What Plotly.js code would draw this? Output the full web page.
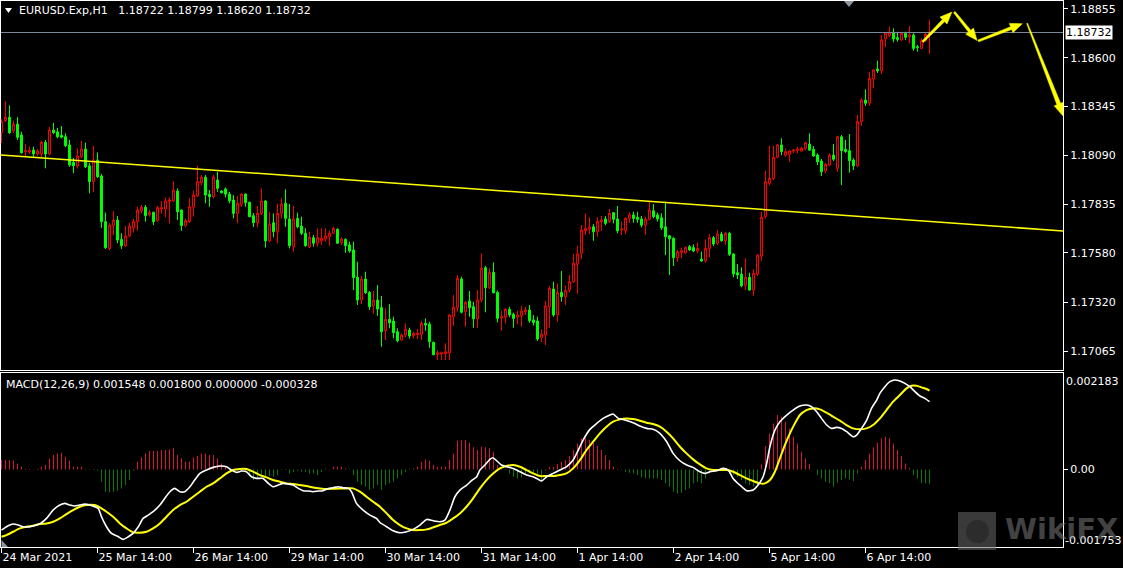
<!DOCTYPE html>
<html><head><meta charset="utf-8">
<script src="https://cdn.plot.ly/plotly-3.0.1.min.js"></script>
<style>html,body{margin:0;padding:0;background:#000;}#chart{width:1123px;height:568px;}</style>
</head><body><div id="chart"></div>
<script>
const symbolLabel = 'EURUSD.Exp,H1';
const indicatorLabel = 'MACD(12,26,9)';
const openP = [
1.18208,1.18271,1.18289,1.18218,1.18253,1.18196,1.18109,1.18107,1.18117,1.18097,
1.18097,1.18158,1.18097,1.18222,1.18212,1.18194,1.18187,1.18144,1.18053,1.18034,
1.18082,1.18123,1.18035,1.17952,1.18065,1.17982,1.17743,1.17603,1.17722,1.17751,
1.17650,1.17617,1.17669,1.17711,1.17743,1.17800,1.17818,1.17778,1.17792,1.17748,
1.17809,1.17809,1.17849,1.17852,1.17903,1.17804,1.17722,1.17743,1.17818,1.17878,
1.17946,1.17975,1.17886,1.17873,1.17961,1.17903,1.17914,1.17887,1.17856,1.17786,
1.17834,1.17887,1.17844,1.17774,1.17737,1.17786,1.17851,1.17642,1.17737,1.17690,
1.17786,1.17839,1.17757,1.17612,1.17760,1.17720,1.17682,1.17612,1.17659,1.17630,
1.17643,1.17652,1.17664,1.17682,1.17703,1.17633,1.17650,1.17621,1.17595,1.17452,
1.17333,1.17443,1.17373,1.17302,1.17333,1.17293,1.17172,1.17232,1.17223,1.17167,
1.17124,1.17150,1.17176,1.17146,1.17152,1.17154,1.17211,1.17207,1.17112,1.17049,
1.17051,1.17052,1.17057,1.17246,1.17293,1.17443,1.17272,1.17328,1.17298,1.17235,
1.17333,1.17502,1.17397,1.17478,1.17373,1.17239,1.17243,1.17284,1.17258,1.17243,
1.17251,1.17272,1.17281,1.17229,1.17223,1.17138,1.17150,1.17298,1.17391,1.17255,
1.17373,1.17350,1.17385,1.17429,1.17520,1.17577,1.17695,1.17703,1.17716,1.17690,
1.17743,1.17757,1.17743,1.17790,1.17757,1.17699,1.17695,1.17760,1.17778,1.17766,
1.17757,1.17725,1.17755,1.17800,1.17778,1.17763,1.17716,1.17669,1.17656,1.17554,
1.17583,1.17580,1.17612,1.17607,1.17589,1.17547,1.17537,1.17603,1.17659,1.17630,
1.17678,1.17642,1.17682,1.17574,1.17476,1.17468,1.17408,1.17452,1.17385,1.17469,
1.17563,1.17769,1.17943,1.17969,1.18079,1.18144,1.18091,1.18095,1.18112,1.18116,
1.18112,1.18126,1.18149,1.18121,1.18091,1.18060,1.18008,1.18039,1.18091,1.18022,
1.18187,1.18121,1.18114,1.18065,1.18035,1.18266,1.18379,1.18362,1.18489,1.18541,
1.18531,1.18698,1.18715,1.18733,1.18705,1.18693,1.18728,1.18710,1.18719,1.18658,
1.18649,1.18689,1.18722];
const highP = [
1.18280,1.18374,1.18351,1.18271,1.18290,1.18213,1.18149,1.18135,1.18135,1.18123,
1.18165,1.18170,1.18239,1.18260,1.18233,1.18243,1.18205,1.18170,1.18076,1.18126,
1.18166,1.18156,1.18050,1.18140,1.18105,1.17992,1.17790,1.17736,1.17798,1.17772,
1.17682,1.17720,1.17737,1.17757,1.17821,1.17830,1.17830,1.17804,1.17795,1.17825,
1.17851,1.17870,1.17870,1.17955,1.17917,1.17807,1.17760,1.17865,1.17905,1.18035,
1.17987,1.17987,1.17908,1.17987,1.18004,1.17908,1.17922,1.17899,1.17882,1.17877,
1.17891,1.17891,1.17847,1.17788,1.17825,1.17917,1.17856,1.17795,1.17786,1.17835,
1.17865,1.17912,1.17835,1.17825,1.17790,1.17769,1.17708,1.17690,1.17673,1.17708,
1.17708,1.17708,1.17695,1.17716,1.17708,1.17661,1.17656,1.17638,1.17638,1.17533,
1.17459,1.17481,1.17380,1.17380,1.17411,1.17354,1.17290,1.17312,1.17246,1.17185,
1.17159,1.17211,1.17188,1.17167,1.17181,1.17225,1.17237,1.17219,1.17115,1.17072,
1.17063,1.17107,1.17260,1.17359,1.17464,1.17455,1.17329,1.17380,1.17324,1.17385,
1.17577,1.17511,1.17499,1.17530,1.17382,1.17277,1.17290,1.17298,1.17267,1.17277,
1.17302,1.17298,1.17307,1.17255,1.17246,1.17180,1.17329,1.17406,1.17429,1.17420,
1.17485,1.17410,1.17464,1.17574,1.17615,1.17725,1.17786,1.17766,1.17730,1.17766,
1.17772,1.17772,1.17809,1.17793,1.17825,1.17743,1.17766,1.17792,1.17795,1.17795,
1.17772,1.17769,1.17852,1.17835,1.17790,1.17786,1.17847,1.17673,1.17661,1.17595,
1.17607,1.17612,1.17621,1.17624,1.17633,1.17586,1.17650,1.17678,1.17668,1.17699,
1.17690,1.17690,1.17690,1.17577,1.17521,1.17504,1.17551,1.17476,1.17494,1.17572,
1.17795,1.18008,1.18140,1.18138,1.18149,1.18179,1.18126,1.18117,1.18123,1.18135,
1.18135,1.18161,1.18205,1.18138,1.18100,1.18070,1.18051,1.18100,1.18149,1.18191,
1.18196,1.18170,1.18201,1.18074,1.18301,1.18388,1.18435,1.18527,1.18541,1.18585,
1.18719,1.18733,1.18762,1.18754,1.18736,1.18736,1.18736,1.18766,1.18728,1.18667,
1.18702,1.18733,1.18799];
const lowP = [
1.18154,1.18264,1.18201,1.18206,1.18170,1.18099,1.18082,1.18097,1.18076,1.18088,
1.18081,1.18022,1.18091,1.18201,1.18179,1.18178,1.18133,1.18030,1.17996,1.18022,
1.18076,1.18023,1.17891,1.17899,1.17971,1.17711,1.17600,1.17594,1.17673,1.17630,
1.17600,1.17610,1.17662,1.17687,1.17695,1.17786,1.17743,1.17769,1.17725,1.17743,
1.17786,1.17766,1.17734,1.17846,1.17751,1.17695,1.17716,1.17736,1.17769,1.17872,
1.17934,1.17839,1.17821,1.17865,1.17899,1.17891,1.17870,1.17839,1.17760,1.17734,
1.17821,1.17821,1.17766,1.17715,1.17713,1.17778,1.17607,1.17635,1.17661,1.17630,
1.17760,1.17716,1.17603,1.17586,1.17708,1.17673,1.17612,1.17605,1.17612,1.17612,
1.17621,1.17638,1.17617,1.17678,1.17626,1.17621,1.17580,1.17580,1.17385,1.17307,
1.17312,1.17365,1.17281,1.17263,1.17251,1.17089,1.17124,1.17185,1.17133,1.17112,
1.17120,1.17138,1.17131,1.17133,1.17129,1.17124,1.17172,1.17084,1.17045,1.17019,
1.17019,1.17019,1.17019,1.17199,1.17272,1.17263,1.17193,1.17246,1.17188,1.17188,
1.17323,1.17269,1.17391,1.17368,1.17216,1.17172,1.17211,1.17243,1.17188,1.17207,
1.17193,1.17255,1.17214,1.17199,1.17119,1.17112,1.17098,1.17188,1.17246,1.17219,
1.17324,1.17307,1.17373,1.17424,1.17365,1.17547,1.17673,1.17678,1.17643,1.17664,
1.17695,1.17725,1.17736,1.17734,1.17682,1.17673,1.17677,1.17737,1.17737,1.17737,
1.17713,1.17673,1.17751,1.17760,1.17743,1.17699,1.17568,1.17464,1.17511,1.17533,
1.17551,1.17574,1.17591,1.17584,1.17577,1.17533,1.17528,1.17556,1.17615,1.17621,
1.17638,1.17621,1.17563,1.17452,1.17443,1.17399,1.17385,1.17382,1.17355,1.17459,
1.17539,1.17760,1.17934,1.17961,1.18076,1.18091,1.18082,1.18056,1.18102,1.18100,
1.18107,1.18117,1.18112,1.18082,1.18039,1.17982,1.17996,1.18034,1.18060,1.18004,
1.17934,1.18103,1.17999,1.18013,1.18029,1.18243,1.18348,1.18348,1.18440,1.18520,
1.18515,1.18655,1.18707,1.18681,1.18684,1.18689,1.18693,1.18676,1.18637,1.18632,
1.18644,1.18684,1.18620];
const closeP = [
1.18266,1.18289,1.18208,1.18253,1.18184,1.18103,1.18114,1.18115,1.18097,1.18112,
1.18158,1.18097,1.18222,1.18208,1.18187,1.18184,1.18140,1.18039,1.18035,1.18086,
1.18123,1.18030,1.17952,1.18065,1.17978,1.17743,1.17607,1.17725,1.17751,1.17647,
1.17617,1.17668,1.17720,1.17743,1.17804,1.17818,1.17774,1.17792,1.17743,1.17816,
1.17816,1.17851,1.17856,1.17908,1.17795,1.17722,1.17748,1.17821,1.17882,1.17952,
1.17975,1.17882,1.17873,1.17976,1.17917,1.17894,1.17887,1.17852,1.17786,1.17839,
1.17887,1.17842,1.17769,1.17737,1.17786,1.17851,1.17642,1.17730,1.17690,1.17786,
1.17835,1.17760,1.17617,1.17757,1.17716,1.17682,1.17617,1.17661,1.17630,1.17659,
1.17656,1.17668,1.17682,1.17708,1.17630,1.17652,1.17617,1.17589,1.17450,1.17333,
1.17443,1.17371,1.17298,1.17333,1.17286,1.17167,1.17232,1.17214,1.17162,1.17120,
1.17150,1.17181,1.17145,1.17159,1.17159,1.17211,1.17202,1.17115,1.17047,1.17057,
1.17057,1.17063,1.17255,1.17295,1.17446,1.17269,1.17321,1.17293,1.17235,1.17333,
1.17499,1.17397,1.17478,1.17371,1.17237,1.17246,1.17284,1.17255,1.17237,1.17255,
1.17275,1.17281,1.17225,1.17216,1.17129,1.17155,1.17302,1.17394,1.17255,1.17373,
1.17350,1.17382,1.17429,1.17525,1.17574,1.17699,1.17708,1.17716,1.17690,1.17743,
1.17751,1.17734,1.17786,1.17755,1.17695,1.17704,1.17760,1.17778,1.17760,1.17755,
1.17725,1.17755,1.17804,1.17769,1.17757,1.17711,1.17664,1.17652,1.17554,1.17586,
1.17591,1.17609,1.17595,1.17589,1.17603,1.17537,1.17603,1.17659,1.17626,1.17678,
1.17643,1.17682,1.17572,1.17469,1.17464,1.17408,1.17452,1.17385,1.17473,1.17568,
1.17766,1.17952,1.17969,1.18079,1.18144,1.18109,1.18109,1.18112,1.18117,1.18121,
1.18126,1.18156,1.18117,1.18086,1.18056,1.18004,1.18043,1.18091,1.18069,1.18187,
1.18114,1.18109,1.18062,1.18035,1.18266,1.18379,1.18362,1.18492,1.18536,1.18531,
1.18693,1.18728,1.18733,1.18698,1.18696,1.18728,1.18707,1.18719,1.18649,1.18653,
1.18689,1.18722,1.18732];
const histVals = [
0.000214,0.000214,0.000214,0.000198,0.000137,0.000061,0.000015,0.000008,0.000004,0.000015,
0.000061,0.000099,0.000252,0.000328,0.000366,0.000382,0.000290,0.000198,0.000061,0.000061,
0.000061,0.000008,-0.000015,-0.000015,-0.000031,-0.000282,-0.000511,-0.000526,-0.000511,-0.000488,
-0.000435,-0.000359,-0.000244,-0.000031,0.000175,0.000275,0.000366,0.000420,0.000420,0.000420,
0.000443,0.000443,0.000458,0.000496,0.000328,0.000252,0.000175,0.000175,0.000275,0.000305,
0.000366,0.000366,0.000328,0.000328,0.000252,0.000137,0.000061,-0.000015,-0.000015,-0.000031,
-0.000031,-0.000053,-0.000092,-0.000244,-0.000206,-0.000168,-0.000153,-0.000153,-0.000168,-0.000130,
-0.000015,-0.000015,-0.000092,-0.000053,-0.000031,-0.000053,-0.000053,-0.000092,-0.000092,-0.000130,
-0.000053,-0.000015,-0.000015,0.000061,0.000061,0.000061,0.000023,-0.000015,-0.000130,-0.000282,
-0.000359,-0.000397,-0.000473,-0.000435,-0.000359,-0.000473,-0.000359,-0.000320,-0.000282,-0.000206,
-0.000130,-0.000053,-0.000015,0.000023,0.000061,0.000175,0.000229,0.000198,0.000099,0.000061,
0.000061,0.000061,0.000214,0.000366,0.000656,0.000671,0.000671,0.000610,0.000504,0.000443,
0.000519,0.000504,0.000481,0.000404,0.000099,0.000023,-0.000015,-0.000092,-0.000168,-0.000206,
-0.000183,-0.000130,-0.000092,-0.000107,-0.000092,-0.000244,-0.000031,0.000061,0.000061,0.000122,
0.000175,0.000214,0.000305,0.000443,0.000595,0.000710,0.000710,0.000671,0.000610,0.000534,
0.000443,0.000328,0.000214,0.000061,0.000015,-0.000015,-0.000053,-0.000076,-0.000092,-0.000130,
-0.000183,-0.000206,-0.000206,-0.000206,-0.000206,-0.000244,-0.000320,-0.000397,-0.000511,-0.000549,
-0.000534,-0.000473,-0.000435,-0.000320,-0.000282,-0.000320,-0.000206,-0.000092,-0.000015,-0.000015,
-0.000004,-0.000015,-0.000092,-0.000130,-0.000168,-0.000244,-0.000320,-0.000359,-0.000397,-0.000359,
0.000114,0.000534,0.000824,0.001053,0.001244,0.001206,0.001091,0.000938,0.000748,0.000595,
0.000404,0.000252,0.000122,0.000000,-0.000130,-0.000206,-0.000282,-0.000320,-0.000397,-0.000305,
-0.000244,-0.000206,-0.000229,-0.000267,-0.000092,0.000061,0.000214,0.000366,0.000504,0.000610,
0.000710,0.000748,0.000710,0.000595,0.000443,0.000305,0.000137,0.000038,-0.000130,-0.000206,
-0.000320,-0.000320,-0.000328];
const macdBars = [0,1.25,2.9,4.2,5.4,7.1,8.75,10,11.25,12.9,14.6,15.8,17.1,18.3,19.6,20.8,22.1,23.3,24.2,25,26.25,27.5,29.2,30.4,31.7,32.9,34.2,35.4,36.7,37.9,39.6,40.8,42.1,43.3,44.6,45.8,47.1,48.3,49.6,51.25,52.9,54.6,56.25,57.5,58.75,60,61.25,62.5,63.75,65.4,66.7,67.9,69.2,70.4,71.7,72.9,74.2,75.4,76.7,77.9,79.2,80.4,81.7,82.9,84.2,85.4,86.7,87.5,88.75,90.4,92.1,93.75,94.6,
96.3,97.9,99.6,101.3,102.9,104.6,106.3,107.9,109.6,110.85,112.1,113.35,114.6,116.3,117.5,118.8,119.6,120.85,122.1,122.9,123.8,125,126.3,127.9,129.6,131.3,132.9,134.2,135,136.3,137.9,139.6,141.3,142.9,144.2,145.4,147.1,148.8,150.4,152.1,152.9,154.2,155.85,157.9,159.6,161.3,162.9,164.6,166.3,167.9,169.6,171.3,172.9,174.6,175.85,177.1,178.8,180.4,181.7,182.9,184.6,186.3,187.9,189.6,
190.4,191.3,192.1,193.35,194.6,196.3,197.9,199.6,201.3,202.5,203.8,205,206.3,207.5,208.8,210,211.3,212.9,213.8,215,216.3,217.5,218.8,219.6,220.85,222.1,223.35,224.6,225.85,227.1,228.35,229.6,230.85,232];
const macdVals = [-0.001389,-0.001312,-0.001251,-0.001274,-0.001312,-0.001312,-0.001274,-0.001221,-0.001122,-0.000931,
-0.000816,-0.000778,-0.000816,-0.000839,-0.000816,-0.000794,-0.000816,-0.000855,-0.000893,-0.001083,
-0.001312,-0.001465,-0.001541,-0.001602,-0.001541,-0.001465,-0.001312,-0.001122,-0.001045,-0.000969,
-0.000816,-0.000664,-0.000511,-0.000435,-0.000511,-0.000511,-0.000397,-0.000244,-0.000092,-0.000015,
0.000046,0.000076,0.000061,-0.000015,-0.000069,-0.000038,-0.000053,-0.000168,-0.000206,-0.000206,
-0.000320,-0.000397,-0.000359,-0.000320,-0.000336,-0.000359,-0.000435,-0.000488,-0.000496,-0.000511,
-0.000496,-0.000488,-0.000435,-0.000420,-0.000397,-0.000420,-0.000435,-0.000511,-0.000778,-0.000931,
-0.001045,-0.001122,-0.001215,
-0.001312,-0.001404,-0.001450,-0.001427,-0.001373,-0.001274,-0.001145,-0.001175,-0.001198,-0.001160,
-0.000931,-0.000626,-0.000473,-0.000359,-0.000259,-0.000168,-0.000015,0.000099,0.000229,0.000267,
0.000198,0.000099,0.000061,0.000023,-0.000053,-0.000130,-0.000168,-0.000229,-0.000267,-0.000168,
-0.000092,-0.000015,0.000061,0.000214,0.000443,0.000671,0.000916,0.001053,0.001167,0.001244,
0.001267,0.001167,0.001129,0.001068,0.000992,0.000938,0.000916,0.000824,0.000633,0.000366,
0.000198,0.000099,0.000046,-0.000053,-0.000092,-0.000053,-0.000031,0.000023,-0.000015,-0.000206,
-0.000359,-0.000488,-0.000473,-0.000300,
-0.000168,0.000137,0.000519,0.000900,0.001091,0.001244,0.001358,0.001450,0.001473,0.001434,
0.001320,0.001167,0.001015,0.000938,0.000961,0.000938,0.000862,0.000748,0.000786,0.000938,
0.001129,0.001396,0.001587,0.001740,0.001892,0.002007,0.002045,0.002022,0.001969,0.001892,
0.001778,0.001679,0.001625,0.001548];
const signalBars = [0,1.25,2.9,4.6,6.25,7.9,9.6,11.25,12.9,14.6,16.25,17.9,19.6,21.25,23.3,24.6,26.25,27.9,29.6,31.25,32.9,34.6,36.25,37.9,39.6,41.25,42.9,44.6,46.25,47.9,49.6,51.25,52.9,54.6,56.25,57.9,59.6,61.25,62.9,64.6,66.25,67.9,69.6,71.25,72.9,74.6,76.25,77.9,79.6,81.25,82.9,84.6,86.25,87.9,89.6,91.25,92.9,94.6,96.3,97.9,99.6,101.3,102.9,104.6,106.3,107.9,109.6,111.25,112.9,114.6,116.25,117.9,119.6,121.25,122.9,124.6,126.25,127.9,129.6,131.25,132.9,134.6,136.25,137.9,139.6,141.25,142.9,144.6,146.25,147.9,149.6,151.25,152.9,154.6,156.25,157.9,159.6,161.25,162.9,164.6,166.25,167.9,169.6,171.25,172.9,174.6,176.25,177.9,179.6,181.25,182.9,184.6,186.25,187.9,189.6,190.85,192.1,193.35,194.6,195.85,197.1,198.35,199.6,201.25,202.9,204.6,206.25,207.9,209.6,211.25,212.9,214.6,216.25,217.9,219.6,221.25,222.9,224.6,226.25,227.5,228.75,230,231.25,232];
const signalVals = [-0.001541,-0.001503,-0.001427,-0.001351,-0.001312,-0.001289,-0.001251,-0.001236,-0.001198,-0.001122,
-0.001022,-0.000931,-0.000855,-0.000816,-0.000816,-0.000870,-0.000969,-0.001083,-0.001236,-0.001351,
-0.001442,-0.001450,-0.001427,-0.001351,-0.001236,-0.001083,-0.000931,-0.000816,-0.000740,-0.000626,
-0.000511,-0.000397,-0.000320,-0.000206,-0.000092,-0.000015,0.000008,0.000008,-0.000053,-0.000130,
-0.000183,-0.000244,-0.000282,-0.000320,-0.000336,-0.000359,-0.000382,-0.000412,-0.000435,-0.000450,
-0.000443,-0.000435,-0.000435,-0.000435,-0.000511,-0.000626,-0.000740,-0.000855,-0.001007,-0.001160,
-0.001274,-0.001351,-0.001389,-0.001389,-0.001373,-0.001328,-0.001274,-0.001221,-0.001122,-0.001007,
-0.000855,-0.000664,-0.000435,-0.000244,-0.000092,0.000023,0.000076,0.000099,0.000061,-0.000015,
-0.000092,-0.000153,-0.000153,-0.000153,-0.000130,-0.000092,0.000023,0.000214,0.000443,0.000633,
0.000824,0.000977,0.001091,0.001145,0.001167,0.001152,0.001114,0.001068,0.001038,0.000977,
0.000862,0.000710,0.000519,0.000366,0.000229,0.000114,0.000023,-0.000015,-0.000015,-0.000015,
-0.000053,-0.000130,-0.000206,-0.000267,-0.000320,-0.000320,-0.000244,-0.000053,0.000252,0.000557,
0.000824,0.001053,0.001244,0.001358,0.001396,0.001373,0.001297,0.001206,0.001114,0.001015,
0.000938,0.000916,0.000938,0.001015,0.001167,0.001358,0.001549,0.001701,0.001854,0.001915,
0.001915,0.001877,0.001839,0.001800];
const tickBars = [0,24,48,72,96,120,144,168,192,216];
const tickText = ['24 Mar 2021','25 Mar 14:00','26 Mar 14:00','29 Mar 14:00','30 Mar 14:00','31 Mar 14:00','1 Apr 14:00','2 Apr 14:00','5 Apr 14:00','6 Apr 14:00'];
const priceTicks = [1.18855,1.18600,1.18345,1.18090,1.17835,1.17580,1.17320,1.17065];
const macdScaleVals = [0.002183,0,-0.001753];
const macdScaleText = ['0.002183','0.00','-0.001753'];
const trendBars = [-0.2,265.4];
const trendPrices = [1.18092,1.17694];
const arrowTailBars = [230.3,238.2,244.2,256.4];
const arrowTailPrices = [1.18684,1.18839,1.18688,1.18780];
const arrowHeadBars = [237.6,243.9,255.2,265.6];
const arrowHeadPrices = [1.18839,1.18690,1.18778,1.18290];

const N = closeP.length;
const idx = closeP.map((_, i) => i);
const xRange = [-0.125, 265.375];
const priceRange = [1.169672, 1.188968];
const macdRange = [-0.001776, 0.002206];
const F = 'DejaVu Sans';
const W = '#ffffff';

// pixel scales of the price panel (used only to shape the drawn arrows)
const kx = 1062 / (xRange[1] - xRange[0]);
const ky = 369 / (priceRange[1] - priceRange[0]);
function arrowPath(tx, ty, hx, hy, w0, w1, headW, headL) {
  const dx = (hx - tx) * kx, dy = (hy - ty) * ky;
  const L = Math.hypot(dx, dy), ux = dx / L, uy = dy / L, nx = -uy, ny = ux;
  const pts = [
    [-nx*w0/2, -ny*w0/2], [ux*(L-headL) - nx*w1/2, uy*(L-headL) - ny*w1/2],
    [ux*(L-headL) - nx*headW/2, uy*(L-headL) - ny*headW/2], [ux*L, uy*L],
    [ux*(L-headL) + nx*headW/2, uy*(L-headL) + ny*headW/2], [ux*(L-headL) + nx*w1/2, uy*(L-headL) + ny*w1/2],
    [nx*w0/2, ny*w0/2]
  ];
  return pts.map((p, i) => (i ? 'L ' : 'M ') + (tx + p[0]/kx).toFixed(4) + ' ' + (ty + p[1]/ky).toFixed(6)).join(' ') + ' Z';
}

const traces = [
  {type:'candlestick', x:idx, open:openP, high:highP, low:lowP, close:closeP, xaxis:'x2', yaxis:'y2',
   increasing:{line:{color:'#ff0000', width:1}, fillcolor:'#000000'},
   decreasing:{line:{color:'#00ff00', width:1}, fillcolor:'#00ff00'},
   whiskerwidth:0, hoverinfo:'skip'},
  {type:'scatter', mode:'lines', x:trendBars, y:trendPrices, xaxis:'x2', yaxis:'y2',
   line:{color:'#ffff00', width:1.5}, hoverinfo:'skip'},
  {type:'bar', x:idx, y:histVals, xaxis:'x', yaxis:'y', width:0.25,
   marker:{color:histVals.map(v => v >= 0 ? '#dc143c' : '#0c780c'), line:{width:0}}, hoverinfo:'skip'},
  {type:'scatter', mode:'lines', x:signalBars, y:signalVals, xaxis:'x', yaxis:'y',
   line:{color:'#ffff00', width:2, shape:'spline', smoothing:0.6}, hoverinfo:'skip'},
  {type:'scatter', mode:'lines', x:macdBars, y:macdVals, xaxis:'x', yaxis:'y',
   line:{color:'#ffffff', width:1.6, shape:'spline', smoothing:0.6}, hoverinfo:'skip'}
];

const last = N - 1;
const head = symbolLabel + '\u00a0\u00a0\u00a0' + [openP[last], highP[last], lowP[last], closeP[last]].map(v => v.toFixed(5)).join(' ');
const macdHead = indicatorLabel + ' ' + macdVals[macdVals.length-1].toFixed(6) + ' ' + signalVals[signalVals.length-1].toFixed(6) + ' 0.000000 ' + histVals[last].toFixed(6);

const annotations = [
  {xref:'paper', yref:'paper', x:0.0151, y:0.9822, xanchor:'left', yanchor:'middle', text:head, showarrow:false, font:{family:F, size:11, color:W}},
  {xref:'paper', yref:'paper', x:0.0028, y:0.2985, xanchor:'left', yanchor:'middle', text:macdHead, showarrow:false, font:{family:F, size:11, color:W}},
  {xref:'paper', yref:'y2', x:1, y:closeP[last], xanchor:'left', yanchor:'middle', xshift:2, text:closeP[last].toFixed(5), showarrow:false,
   bgcolor:'#ffffff', borderpad:0, font:{family:F, size:11, color:'#000000'}},
  {xref:'paper', yref:'paper', x:1, y:0.3022, xanchor:'left', yanchor:'middle', xshift:1, text:macdScaleText[0], showarrow:false, font:{family:F, size:11, color:W}},
  {xref:'paper', yref:'paper', x:1, y:0.0128, xanchor:'left', yanchor:'middle', xshift:0, text:macdScaleText[2], showarrow:false, font:{family:F, size:11, color:W}},
  {xref:'paper', yref:'paper', x:0.9435, y:0.0330, xanchor:'left', yanchor:'middle', text:'WikiFX', showarrow:false,
   font:{family:F, size:29, color:'rgba(125,125,125,0.55)', weight:'bold'}}
];

const shapes = [
  {type:'line', xref:'paper', yref:'y2', x0:0, x1:1, y0:closeP[last], y1:closeP[last], line:{color:'#778899', width:1}},
  {type:'path', xref:'paper', yref:'paper', path:'M 0.003766 0.98718 L 0.010358 0.98718 L 0.007062 0.97802 Z', fillcolor:'#ffffff', line:{width:0}},
  {type:'path', xref:'paper', yref:'paper', path:'M 0.79379 1.0 L 0.80320 1.0 L 0.79849 0.98901 Z', fillcolor:'#8c96a0', line:{width:0}},
  {type:'path', xref:'paper', yref:'paper', path:'M 0.0005 0.01282 L 0.0005 0.0 L 0.00659 0.0 Z', fillcolor:'#8c96a0', line:{width:0}},
  {type:'rect', xref:'paper', yref:'paper', x0:0.90113, x1:0.93691, y0:-0.0055, y1:0.0641, fillcolor:'rgba(105,105,105,0.55)', line:{width:0}},
  {type:'circle', xref:'paper', yref:'paper', x0:0.90866, x1:0.93032, y0:0.0073, y1:0.0495, fillcolor:'rgba(35,35,35,0.6)', line:{width:0}}
];
const arrowStyle = [[2,3,10,12],[2,3,10,12],[2,3,10,12],[1,4,10,14]];
for (let k = 0; k < arrowHeadBars.length; k++) {
  const s = arrowStyle[k];
  shapes.push({type:'path', xref:'x2', yref:'y2', fillcolor:'#ffff00', line:{width:0.5, color:'#ffff00'},
    path:arrowPath(arrowTailBars[k], arrowTailPrices[k], arrowHeadBars[k], arrowHeadPrices[k], s[0], s[1], s[2], s[3])});
}

const axLine = {showgrid:false, zeroline:false, showline:true, mirror:true, linecolor:W, linewidth:1};
const layout = {
  width:1123, height:568, paper_bgcolor:'#000000', plot_bgcolor:'#000000',
  margin:{l:1, r:60, t:1, b:21, pad:0}, showlegend:false, hovermode:false, dragmode:false,
  font:{family:F, size:11, color:W},
  xaxis:Object.assign({anchor:'y', domain:[0,1], range:xRange, ticks:'outside', ticklen:5, tickcolor:W, tickwidth:1,
    tickmode:'array', tickvals:tickBars, ticktext:tickText, ticklabelposition:'outside right',
    tickfont:{family:F, size:11, color:W}}, axLine),
  xaxis2:Object.assign({anchor:'y2', domain:[0,1], range:xRange, showticklabels:false, ticks:'', rangeslider:{visible:false}}, axLine),
  yaxis:Object.assign({anchor:'x', domain:[0,0.3187], range:macdRange, side:'right', ticks:'outside', ticklen:4, tickcolor:W,
    tickmode:'array', tickvals:[macdScaleVals[1]], ticktext:[macdScaleText[1]], tickfont:{family:F, size:11, color:W}}, axLine),
  yaxis2:Object.assign({anchor:'x2', domain:[0.3242,1], range:priceRange, side:'right', ticks:'outside', ticklen:4, tickcolor:W,
    tickmode:'array', tickvals:priceTicks, ticktext:priceTicks.map(v => v.toFixed(5)), tickfont:{family:F, size:11, color:W}}, axLine),
  annotations:annotations, shapes:shapes
};
Plotly.newPlot('chart', traces, layout, {staticPlot:true, displayModeBar:false});
</script></body></html>
